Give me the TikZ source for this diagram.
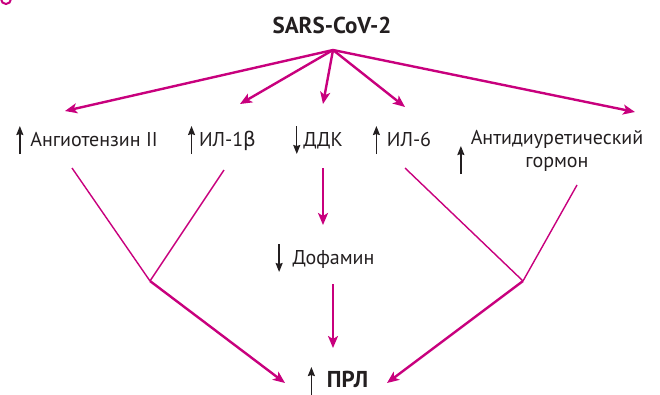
\documentclass[tikz,border=0pt]{standalone}
\usepackage{fontspec}
\setmainfont{PT Sans}
\newfontfamily\symfont{DejaVu Sans}
\usetikzlibrary{arrows.meta}
\definecolor{prlpink}{RGB}{200,0,125}
\definecolor{textgray}{RGB}{35,31,32}
\newcommand{\upar}{\tikz[x=1pt,y=1pt,baseline=0pt]\draw[textgray,line width=1.4pt,-{Stealth[length=9pt,width=7pt,inset=1pt]}] (0,-8) -- (0,20);}
\newcommand{\dnar}{\tikz[x=1pt,y=1pt,baseline=0pt]\draw[textgray,line width=1.4pt,-{Stealth[length=9pt,width=7pt,inset=1pt]}] (0,20) -- (0,-8);}

\begin{document}
\begin{tikzpicture}[x=1pt,y=-1pt,>={Stealth[length=12pt,width=10pt,inset=3pt]},
    txt/.style={font=\fontsize{20}{23}\selectfont,inner sep=1pt,text=textgray},
    head/.style={font=\fontsize{23}{26}\selectfont\bfseries,inner sep=1pt,text=textgray},
    fan/.style={prlpink,line width=2.4pt,->},
    thin/.style={prlpink,line width=1.4pt}]
            \useasboundingbox (0,0) rectangle (660,394);
            \draw[prlpink,line width=2pt] (6,-1) circle (5);
            % top
            \node[head] (sars) at (332,25) {SARS-CoV-2};
            \coordinate (hub) at (333,50);
            % second row
            \node[txt] (angio) at (87,140) {\upar\hspace{7pt}Ангиотензин II};
            \node[txt] (il1) at (222,140) {\upar\hspace{4pt}ИЛ-1{\symfont β}};
            \node[txt] (ddk) at (318,140) {\dnar\hspace{3pt}ДДК};
            \node[txt] (il6) at (402,140) {\upar\hspace{7pt}ИЛ-6};
            \node[txt,align=center] (adh) at (557,151) {Антидиуретический\\гормон};
            \node[txt,anchor=east] (adhup) at ([xshift=-4,yshift=-9]adh.west) {\upar};
            \node[txt] (dopa) at (325,258) {\dnar\hspace{10pt}Дофамин};
            \node[head] (prl) at (338,381) {\upar\hspace{12pt}ПРЛ};
            \coordinate (jl) at (150,281);
            \coordinate (jr) at (523,281);
            % arrows from the virus
            \draw[fan] (hub) -- ([shift={(-22,-29)}]angio.center);
            \draw[fan] (hub) -- ([shift={(18,-36)}]il1.center);
            \draw[fan] (hub) -- ([shift={(5,-36)}]ddk.center);
            \draw[fan] (hub) -- ([shift={(3,-33)}]il6.center);
            \draw[fan] (hub) -- ([shift={(78,-39)}]adh.center);
            % left and right branches
            \draw[thin] ([shift={(-15,28)}]angio.center) -- (jl);
            \draw[thin] ([shift={(2,30)}]il1.center) -- (jl);
            \draw[fan] (jl) -- ([shift={(-53,2)}]prl.center);
            \draw[thin] ([shift={(3,28)}]il6.center) -- (jr);
            \draw[thin] ([shift={(20,34)}]adh.center) -- (jr);
            \draw[fan] (jr) -- ([shift={(49,2)}]prl.center);
            % middle
            \draw[fan] ([shift={(5,28)}]ddk.center) -- ([shift={(-2,-33)}]dopa.center);
            \draw[fan] ([shift={(8,26)}]dopa.center) -- ([shift={(-5,-33)}]prl.center);
        \end{tikzpicture}
\end{document}
